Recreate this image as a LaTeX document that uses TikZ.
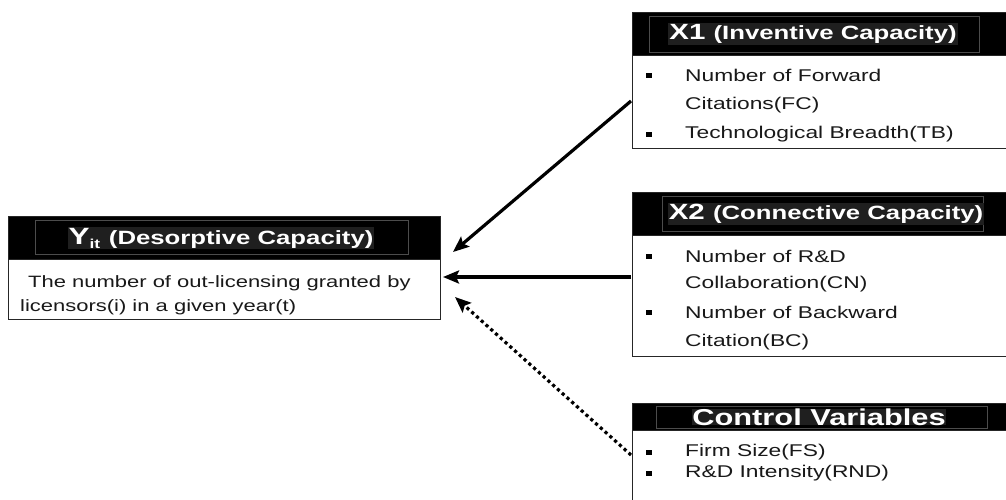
\documentclass[tikz,border=0pt]{standalone}
\usepackage{fontspec}
\setmainfont[FakeStretch=1.34]{Liberation Sans}
\usetikzlibrary{arrows.meta}
\tikzset{
  box/.style={draw=black!85, line width=1.2pt, fill=white, anchor=north west, inner sep=0pt},
  hdr/.style={fill=black, draw=black!85, line width=1.2pt, anchor=north west, inner sep=0pt},
  frame/.style={draw=black!70, line width=0.8pt, anchor=north west, inner sep=0pt},
  htext/.style={text=white, fill=black!88, inner sep=1pt, font=\bfseries},
  body/.style={anchor=west, inner sep=0pt, font=\fontsize{17}{20}\selectfont, text=black!90},
  ybody/.style={body, font=\fontsize{16.4}{20}\selectfont},
  bullet/.style={fill=black, minimum width=6pt, minimum height=5pt, inner sep=0pt},
  arr/.style={line width=3.2pt, -{Stealth[length=16pt,width=13pt,inset=3pt]}},
  darr/.style={line width=3.2pt, dash pattern=on 3.2pt off 3.2pt, -{Stealth[length=16pt,width=13pt,inset=3pt]}}
}
\begin{document}
\begin{tikzpicture}[x=1pt,y=-1pt]
\useasboundingbox (0,0) rectangle (1006,499);
% Y box
\node[box, minimum width=432pt, minimum height=103pt] (ybox) at (8,216) {};
\node[hdr, minimum width=432pt, minimum height=43pt] (yhdr) at (8,216) {};
\node[frame, minimum width=373pt, minimum height=34pt] (yfr) at (35,220) {};
\node[htext] (ytitle) at (221,238) {\fontsize{23.5}{24}\selectfont Y\raisebox{-4pt}{\fontsize{13}{13}\selectfont it} \fontsize{19.2}{24}\selectfont(Desorptive Capacity)};
\node[ybody] (yl1) at (28,283) {The number of out-licensing granted by};
\node[ybody] (yl2) at (20,307) {licensors(i) in a given year(t)};
% X1 box
\node[box, minimum width=380pt, minimum height=136pt] (x1box) at (632,12) {};
\node[hdr, minimum width=380pt, minimum height=43pt] (x1hdr) at (632,12) {};
\node[frame, minimum width=330pt, minimum height=36pt] (x1fr) at (649,16) {};
\node[htext] (x1title) at (813,34) {\fontsize{22}{24}\selectfont X1 \fontsize{19.2}{24}\selectfont(Inventive Capacity)};
\node[bullet] (x1b1) at (649,75) {};
\node[body] (x1l1) at (685,75) {Number of Forward};
\node[body] (x1l2) at (685,105) {Citations(FC)};
\node[bullet] (x1b2) at (649,134) {};
\node[body] (x1l3) at (685,134) {Technological Breadth(TB)};
% X2 box
\node[box, minimum width=380pt, minimum height=164pt] (x2box) at (632,192) {};
\node[hdr, minimum width=380pt, minimum height=43pt] (x2hdr) at (632,192) {};
\node[frame, minimum width=321pt, minimum height=35pt] (x2fr) at (662,196) {};
\node[htext] (x2title) at (826,214) {\fontsize{22}{24}\selectfont X2 \fontsize{19.2}{24}\selectfont(Connective Capacity)};
\node[bullet] (x2b1) at (649,256) {};
\node[body] (x2l1) at (685,256) {Number of R\&D};
\node[body] (x2l2) at (685,284) {Collaboration(CN)};
\node[bullet] (x2b2) at (649,312) {};
\node[body] (x2l3) at (685,312) {Number of Backward};
\node[body] (x2l4) at (685,342) {Citation(BC)};
% Control box
\node[box, minimum width=380pt, minimum height=110pt] (cbox) at (632,403) {};
\node[hdr, minimum width=380pt, minimum height=27pt] (chdr) at (632,403) {};
\node[frame, minimum width=331pt, minimum height=22pt] (cfr) at (656,406) {};
\node[htext, inner sep=0pt] (ctitle) at (819,417) {\fontsize{23}{24}\selectfont Control Variables};
\node[bullet] (cb1) at (649,452) {};
\node[body] (cl1) at (685,452) {Firm Size(FS)};
\node[bullet] (cb2) at (649,473) {};
\node[body] (cl2) at (685,473) {R\&D Intensity(RND)};
% connectors
\coordinate (a1s) at (631,101);
\coordinate (a1e) at (453,252);
\coordinate (a2s) at (631,277);
\coordinate (a2e) at (443,277);
\coordinate (a3s) at (631,455);
\coordinate (a3e) at (455,297);
\draw[arr] (a1s) -- (a1e);
\draw[arr] (a2s) -- (a2e);
\draw[darr] (a3s) -- (a3e);
\end{tikzpicture}
\end{document}
